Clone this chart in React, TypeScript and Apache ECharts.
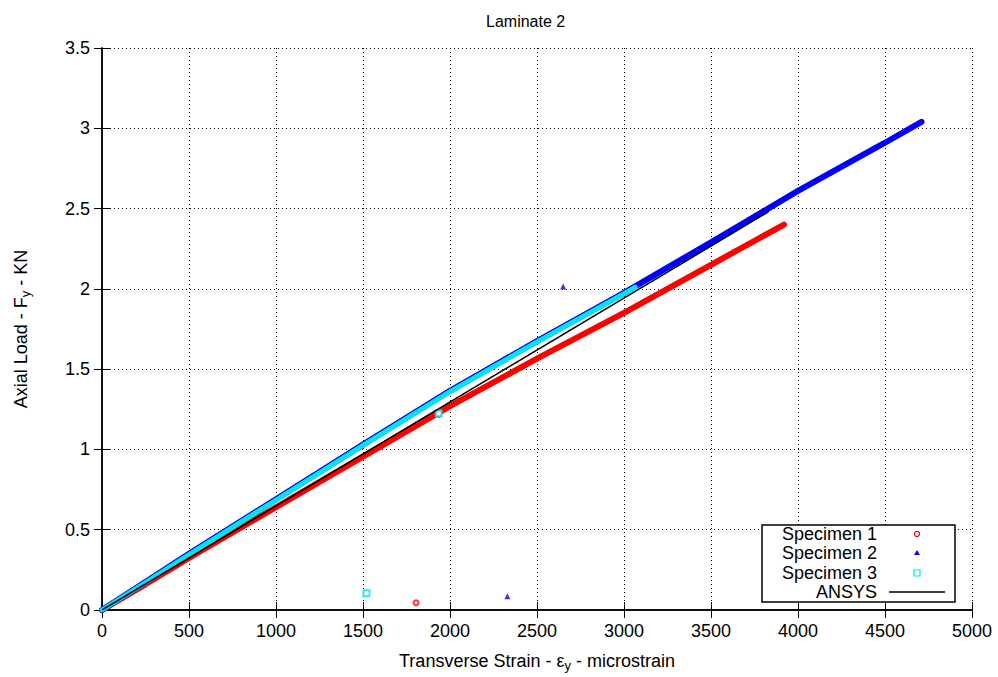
import React, { useEffect, useRef } from "react";
import * as echarts from "echarts";

// Values: [transverse strain (microstrain), axial load (kN)]
const specimen1: number[][] = [
  [0, 0], [250, 0.16], [500, 0.325], [1000, 0.64], [1500, 0.955], [2000, 1.27],
  [2500, 1.565], [3000, 1.85], [3500, 2.15], [3920, 2.4],
];
const specimen1Stray: number[][] = [[1805, 0.045], [1935, 1.22]];

const specimen2: number[][] = [
  [0, 0], [250, 0.175], [500, 0.35], [1000, 0.69], [1500, 1.03], [2000, 1.365],
  [2500, 1.675], [3000, 1.975], [3500, 2.29], [4000, 2.61], [4500, 2.91], [4710, 3.04],
];
const specimen2Stray: number[][] = [[2330, 0.085], [2650, 2.015]];

const specimen3: number[][] = [
  [0, 0], [250, 0.17], [500, 0.345], [1000, 0.685], [1500, 1.025], [2000, 1.36],
  [2500, 1.67], [3000, 1.97], [3065, 2.01],
];
const specimen3Stray: number[][] = [[1520, 0.105], [1935, 1.225]];

const ansys: number[][] = [[0, 0], [3830, 2.48]];

const legendNames = ["Specimen 1", "Specimen 2", "Specimen 3", "ANSYS"];
const colors = ["#ff0000", "#0000ff", "#00e5ee", "#000000"];

const FONT = "Liberation Sans";

export default function App() {
  const ref = useRef<HTMLDivElement>(null);
  useEffect(() => {
    if (!ref.current) return;
    const chart = echarts.init(ref.current, undefined, { renderer: "svg" });
    const axisCommon = {
      type: "value" as const,
      axisLine: { show: true, lineStyle: { color: "#000", width: 1.5 } },
      axisTick: { show: true, inside: true, length: 8, lineStyle: { color: "#000", width: 1 } },
    };
    const labelStyle = { color: "#000", fontSize: 18, fontFamily: FONT };
    const dotted = { show: true, lineStyle: { color: "#000", width: 1, type: [1, 3] as number[] } };
    const rowY = [534, 553, 573, 592];
    const legendGraphics: any[] = [
      {
        type: "rect", z: 100,
        shape: { x: 762, y: 525, width: 193, height: 77 },
        style: { fill: "#fff", stroke: "#000", lineWidth: 1.5 },
      },
      ...legendNames.map((n, i) => ({
        type: "text", z: 101, x: 877, y: rowY[i],
        style: { text: n, fill: "#000", font: `18px '${FONT}'`, textAlign: "right", textVerticalAlign: "middle" },
      })),
      { type: "circle", z: 101, shape: { cx: 917, cy: rowY[0], r: 2.5 }, style: { fill: "none", stroke: colors[0], lineWidth: 1.2 } },
      { type: "polygon", z: 101, shape: { points: [[917, rowY[1] - 3], [914, rowY[1] + 2], [920, rowY[1] + 2]] }, style: { fill: colors[1] } },
      { type: "rect", z: 101, shape: { x: 914, y: rowY[2] - 3, width: 6, height: 6 }, style: { fill: "none", stroke: colors[2], lineWidth: 1.2 } },
      { type: "line", z: 101, shape: { x1: 889, y1: rowY[3], x2: 945, y2: rowY[3] }, style: { stroke: "#000", lineWidth: 1.5 } },
    ];
    chart.setOption({
      animation: false,
      backgroundColor: "#fff",
      title: {
        text: "Laminate 2",
        left: 481, top: 8,
        textStyle: { color: "#000", fontSize: 16, fontWeight: "normal", fontFamily: FONT },
      },
      grid: { left: 102, right: 26, top: 48, bottom: 67, containLabel: false, outerBoundsMode: "none" },
      xAxis: [
        {
          ...axisCommon,
          position: "bottom",
          min: 0, max: 5000, interval: 500,
          axisLabel: { ...labelStyle, margin: 12, formatter: (v: number) => String(v) },
          splitLine: dotted,
          name: "Transverse Strain - ε{s|y} - microstrain",
          nameLocation: "middle",
          nameGap: 39,
          nameTextStyle: {
            color: "#000", fontSize: 18, fontFamily: FONT,
            rich: { s: { fontSize: 13, fontFamily: FONT, color: "#000", padding: [10, 0, 0, 0] } },
          },
        },
        {
          ...axisCommon,
          position: "top",
          min: 0, max: 5000, interval: 500,
          axisLabel: { show: false },
          splitLine: { show: false },
        },
      ],
      yAxis: [
        {
          ...axisCommon,
          position: "left",
          min: 0, max: 3.5, interval: 0.5,
          axisLabel: { ...labelStyle, margin: 12 },
          splitLine: dotted,
          name: "Axial Load - F{s|y} - KN",
          nameLocation: "middle",
          nameGap: 70,
          nameTextStyle: {
            color: "#000", fontSize: 18, fontFamily: FONT,
            rich: { s: { fontSize: 13, fontFamily: FONT, color: "#000", padding: [10, 0, 0, 0] } },
          },
        },
        {
          ...axisCommon,
          position: "right",
          min: 0, max: 3.5, interval: 0.5,
          axisLabel: { show: false },
          splitLine: { show: false },
        },
      ],
      series: [
        {
          name: "Specimen 1", type: "line", data: specimen1, symbol: "none", z: 2,
          lineStyle: { color: colors[0], width: 6, cap: "round" },
        },
        {
          name: "Specimen 2", type: "line", data: specimen2, symbol: "none", z: 3,
          lineStyle: { color: colors[1], width: 6, cap: "round" },
        },
        {
          name: "Specimen 3", type: "line", data: specimen3, symbol: "none", z: 4,
          lineStyle: { color: colors[2], width: 5, cap: "round" },
        },
        {
          name: "Specimen 1 stray", type: "scatter", data: specimen1Stray, symbol: "emptyCircle", symbolSize: 5, z: 5,
          itemStyle: { color: colors[0], borderWidth: 1.2 },
        },
        {
          name: "Specimen 2 stray", type: "scatter", data: specimen2Stray, symbol: "triangle", symbolSize: 6, z: 5,
          itemStyle: { color: colors[1] },
        },
        {
          name: "Specimen 3 stray", type: "scatter", data: specimen3Stray, symbol: "emptyRect", symbolSize: 6, z: 5,
          itemStyle: { color: colors[2], borderWidth: 1.2 },
        },
        {
          name: "ANSYS", type: "line", data: ansys, symbol: "none", z: 6,
          lineStyle: { color: colors[3], width: 1.5 },
        },
      ],
      graphic: legendGraphics,
    });
    return () => chart.dispose();
  }, []);
  return <div ref={ref} style={{ width: 998, height: 677, position: "absolute", left: 0, top: 0 }} />;
}
